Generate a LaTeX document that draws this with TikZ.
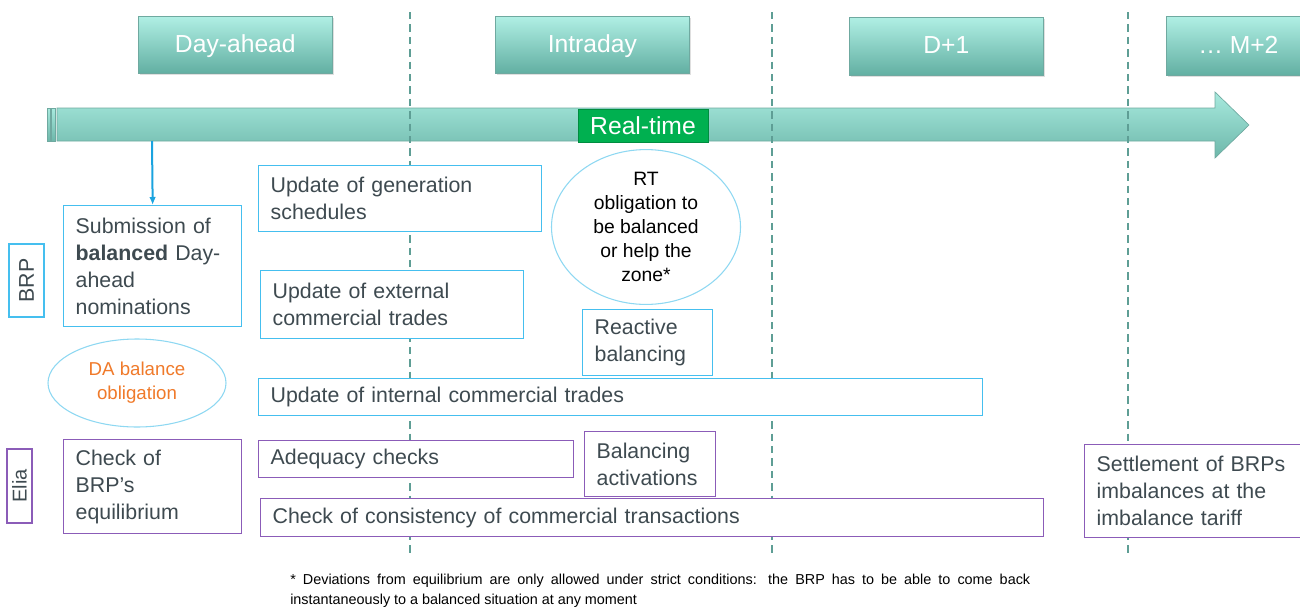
\documentclass[tikz,border=0pt]{standalone}
\usepackage{fontspec}
\setmainfont{Liberation Sans}
\usetikzlibrary{shapes.geometric,shadows,arrows.meta}
\definecolor{hdtop}{HTML}{B0EFE4}
\definecolor{hdbot}{HTML}{62AFA2}
\definecolor{hdedge}{HTML}{6FA9A0}
\definecolor{artop}{HTML}{A8EADE}
\definecolor{arbot}{HTML}{6DB7AA}
\definecolor{dashc}{HTML}{5E9E95}
\definecolor{boxblue}{HTML}{45BFEF}
\definecolor{ellblue}{HTML}{8ED8F2}
\definecolor{boxpurple}{HTML}{8B5CB8}
\definecolor{txtgrey}{HTML}{3E4A50}
\definecolor{daorange}{HTML}{F07A2A}
\definecolor{rtgreen}{HTML}{00B050}
\definecolor{arrblue}{HTML}{1AA3DF}
\tikzset{
  header/.style={draw=hdedge, line width=0.5pt, top color=hdtop, bottom color=hdbot, anchor=north west,
    text=white, font=\fontsize{18.5}{22}\selectfont, inner sep=0pt, text height=13.5pt, text depth=2.5pt,
    drop shadow={opacity=0.25, shadow xshift=1pt, shadow yshift=-1pt}},
  bbox/.style={draw=boxblue, line width=1pt, fill=white, anchor=north west, align=left,
    inner xsep=9pt, inner ysep=0pt, text=txtgrey, font=\fontsize{16}{20.25}\selectfont},
  pbox/.style={bbox, draw=boxpurple},
  dashline/.style={draw=dashc, line width=1.7pt, dash pattern=on 5.5pt off 3.8pt},
  ell/.style={ellipse, draw=ellblue, line width=0.8pt, fill=white, inner sep=0pt, align=center},
  rolelabel/.style={rotate=90, line width=1pt, fill=white, inner sep=0pt, text=txtgrey},
  foot/.style={anchor=west, inner sep=0pt, font=\fontsize{10.8}{13}\selectfont}
}
\begin{document}
\begin{tikzpicture}[x=0.75pt,y=-0.75pt]
\useasboundingbox (0,0) rectangle (1300,607);
% timeline arrow
\shade[top color=artop, bottom color=arbot, draw=hdedge, line width=0.5pt] (47,108) rectangle (50,141);
\shade[top color=artop, bottom color=arbot, draw=hdedge, line width=0.5pt] (51.5,108) rectangle (55,141);
\shade[top color=artop, bottom color=arbot, draw=hdedge, line width=0.5pt]
  (57,108) -- (1215,108) -- (1215,92) -- (1249,125) -- (1215,158) -- (1215,141) -- (57,141) -- cycle;
% dashed separators
\coordinate (d1t) at (410,12); \coordinate (d1b) at (410,556);
\coordinate (d2t) at (772,12); \coordinate (d2b) at (772,556);
\coordinate (d3t) at (1128,12); \coordinate (d3b) at (1128,556);
\draw[dashline] (d1t) -- (d1b);
\draw[dashline] (d2t) -- (d2b);
\draw[dashline] (d3t) -- (d3b);
% headers
\node[header, minimum width=145.5pt, minimum height=42.75pt] (hda) at (138,16) {Day-ahead};
\node[header, minimum width=145.5pt, minimum height=42.75pt] (hid) at (495,16) {Intraday};
\node[header, minimum width=145.5pt, minimum height=43.5pt] (hd1) at (849,17) {D+1};
\node[header, minimum width=108pt, minimum height=44.25pt] (hm2) at (1166,16) {… M+2};
% real-time
\node[fill=rtgreen, draw=rtgreen!80!black, line width=0.4pt, text=white, minimum width=97.5pt, minimum height=24.75pt,
  inner sep=0pt, font=\fontsize{18.5}{22}\selectfont] (rt) at (643,125.5) {Real-time};
% role labels
\node[rolelabel, draw=boxblue, minimum width=54.75pt, minimum height=26.25pt, font=\fontsize{16}{18}\selectfont] (brp) at (26.5,280.5) {BRP};
\node[rolelabel, draw=boxpurple, minimum width=55.5pt, minimum height=18.75pt, font=\fontsize{15}{18}\selectfont] (elia) at (19.5,486) {Elia};
% BRP boxes
\node[bbox, text width=115.5pt, minimum height=90.75pt] (sub) at (63,205) {Submission of\\\textbf{balanced} Day-\\ahead\\nominations};
\node[bbox, text width=194.25pt, minimum height=49.5pt] (gen) at (258,165) {Update of generation\\schedules};
\node[bbox, text width=179.25pt, minimum height=51pt] (ext) at (260,270) {Update of external\\commercial trades};
\node[bbox, text width=525pt, minimum height=27.75pt] (int) at (258,378) {Update of internal commercial trades};
\node[bbox, text width=79.5pt, minimum height=49.5pt] (rea) at (582,309) {Reactive\\balancing};
% ellipses
\node[ell, minimum width=133.5pt, minimum height=66pt, text=daorange, font=\fontsize{14}{18}\selectfont] (da) at (137,383) {DA balance\\obligation};
\node[ell, minimum width=141.75pt, minimum height=106.5pt, text=black, font=\fontsize{14.5}{18}\selectfont] (rto) at (646,227) {RT\\obligation to\\be balanced\\or help the\\zone*};
% Elia boxes
\node[pbox, text width=115.5pt, minimum height=70.5pt] (chk) at (63,439) {Check of\\BRP’s\\equilibrium};
\node[pbox, text width=218.25pt, minimum height=27.75pt] (adq) at (258,440) {Adequacy checks};
\node[pbox, text width=80.25pt, minimum height=48.75pt] (bal) at (584,431) {Balancing\\activations};
\node[pbox, text width=569.25pt, minimum height=28.5pt] (con) at (260,498) {Check of consistency of commercial transactions};
\node[pbox, text width=151.5pt, minimum height=69.75pt] (set) at (1084,444) {Settlement of BRPs\\imbalances at the\\imbalance tariff};
% blue arrow
\coordinate (afoot) at (152,141);
\draw[arrblue, line width=1.5pt, -{Latex[length=6pt,width=5pt]}] (afoot) -- (sub.north);
% footnote
\node[foot] (fn1) at (290,581) {\makebox[555pt][s]{* Deviations from equilibrium are only allowed under strict conditions: the BRP has to be able to come back}};
\node[foot] (fn2) at (290,601) {\makebox[260pt][s]{instantaneously to a balanced situation at any moment}};
\end{tikzpicture}
\end{document}
